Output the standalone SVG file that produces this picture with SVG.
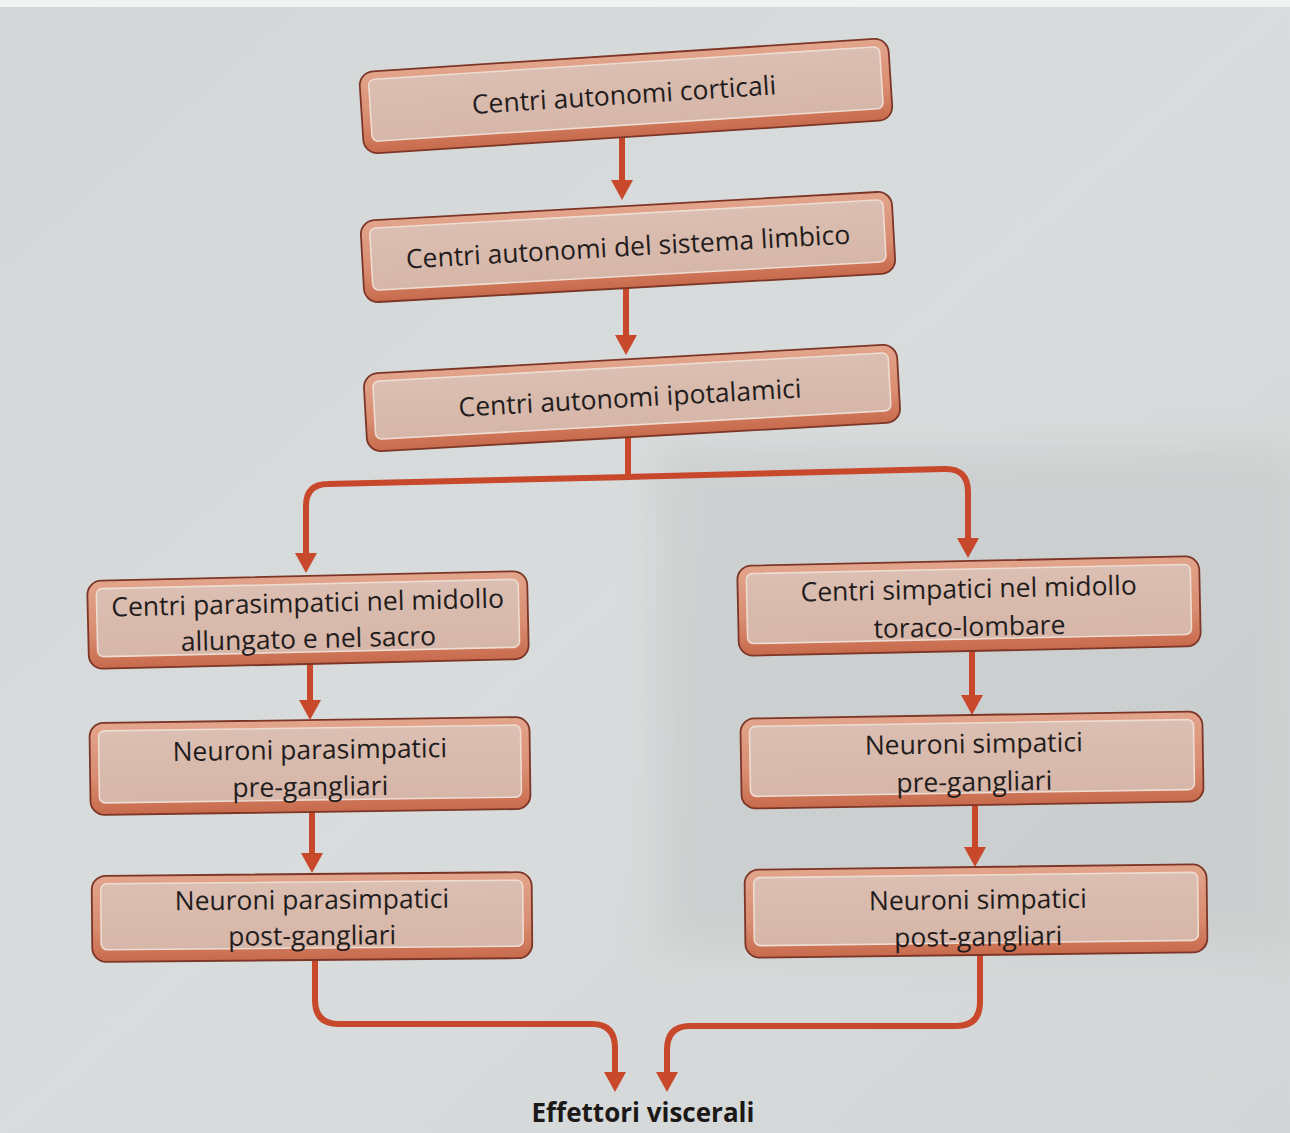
<svg xmlns="http://www.w3.org/2000/svg" width="1290" height="1133" viewBox="0 0 1290 1133">
<defs>
<linearGradient id="outerG" x1="0" y1="0" x2="0" y2="1">
<stop offset="0" stop-color="#e2a58c"/>
<stop offset="0.6" stop-color="#d98c70"/>
<stop offset="1" stop-color="#c86a4c"/>
</linearGradient>
<linearGradient id="innerG" x1="0" y1="0" x2="0" y2="1">
<stop offset="0" stop-color="#dbbfb2"/>
<stop offset="1" stop-color="#d6b6a8"/>
</linearGradient>
<linearGradient id="bgG" x1="0" y1="0" x2="1" y2="1">
<stop offset="0" stop-color="#d4d7d7"/>
<stop offset="0.5" stop-color="#d9dcdc"/>
<stop offset="1" stop-color="#d3d6d6"/>
</linearGradient>
<filter id="soft" x="-10%" y="-10%" width="120%" height="120%"><feGaussianBlur stdDeviation="18"/></filter>
<marker id="ah" viewBox="0 0 20 22" refX="0" refY="11" markerWidth="20" markerHeight="22" markerUnits="userSpaceOnUse" orient="auto">
<path d="M0,0 L20,11 L0,22 z" fill="#c8482b"/>
</marker>
<style>
.outer{fill:url(#outerG);stroke:#7c3627;stroke-width:1.8}
.inner{fill:url(#innerG);stroke:#eedcd2;stroke-width:1.6}
.lbl{font-family:"Open Sans","Noto Sans",sans-serif;font-size:26.5px;fill:#231c1c;text-anchor:middle}
.conn{fill:none;stroke:#c8482b;stroke-width:6;stroke-linejoin:round}
.title{font-family:"Open Sans","Noto Sans",sans-serif;font-size:26px;font-weight:bold;fill:#1c1818;text-anchor:middle}
</style>
</defs>
<rect x="0" y="0" width="1290" height="1133" fill="url(#bgG)"/>
<rect x="660" y="450" width="640" height="500" fill="#c6c9c9" opacity="0.6" filter="url(#soft)"/>
<rect x="0" y="0" width="1290" height="7" fill="#f1f2f2"/>

<g id="connectors">
<path class="conn" d="M622 138 L622 180" marker-end="url(#ah)"/>
<path class="conn" d="M626 287 L626 335" marker-end="url(#ah)"/>
<path class="conn" d="M628 436 L628 478"/>
<path class="conn" d="M631 477 L328 484 Q306 484 306 506 L306 553" marker-end="url(#ah)"/>
<path class="conn" d="M625 477 L944 469 Q968 468 968 492 L968 538" marker-end="url(#ah)"/>
<path class="conn" d="M310 662 L310 700" marker-end="url(#ah)"/>
<path class="conn" d="M312 810 L312 853" marker-end="url(#ah)"/>
<path class="conn" d="M972 649 L972 695" marker-end="url(#ah)"/>
<path class="conn" d="M975 803 L975 847" marker-end="url(#ah)"/>
<path class="conn" d="M315 958 L315 1000 Q315 1024 339 1024 L592 1024 Q615 1024 615 1048 L615 1072" marker-end="url(#ah)"/>
<path class="conn" d="M980 953 L980 1002 Q980 1026 956 1026 L690 1026 Q667 1026 667 1050 L667 1072" marker-end="url(#ah)"/>
</g>

<g id="n1" transform="rotate(-3.7 626 96)">
<rect class="outer" x="361" y="55" width="530" height="82" rx="14"/>
<rect class="inner" x="370" y="63" width="512" height="62" rx="6"/>
<text class="lbl" x="624" y="104">Centri autonomi corticali</text>
</g>

<g id="n2" transform="rotate(-3.2 628 247)">
<rect class="outer" x="362" y="206" width="532" height="82" rx="14"/>
<rect class="inner" x="371" y="214" width="514" height="62" rx="6"/>
<text class="lbl" x="628" y="256">Centri autonomi del sistema limbico</text>
</g>

<g id="n3" transform="rotate(-3.2 632 398)">
<rect class="outer" x="365" y="359" width="534" height="78" rx="14"/>
<rect class="inner" x="374" y="367" width="516" height="58" rx="6"/>
<text class="lbl" x="630" y="407">Centri autonomi ipotalamici</text>
</g>

<g id="n4" transform="rotate(-1.3 308 620)">
<rect class="outer" x="88" y="576" width="440" height="88" rx="14"/>
<rect class="inner" x="97" y="584" width="422" height="68" rx="6"/>
<text class="lbl" x="308" y="612">Centri parasimpatici nel midollo</text>
<text class="lbl" x="308" y="648">allungato e nel sacro</text>
</g>

<g id="n5" transform="rotate(-1.2 969 606)">
<rect class="outer" x="738" y="561" width="462" height="90" rx="14"/>
<rect class="inner" x="747" y="569" width="444" height="70" rx="6"/>
<text class="lbl" x="969" y="598">Centri simpatici nel midollo</text>
<text class="lbl" x="969" y="636">toraco-lombare</text>
</g>

<g id="n6" transform="rotate(-0.8 310 766)">
<rect class="outer" x="90" y="720" width="440" height="92" rx="14"/>
<rect class="inner" x="99" y="728" width="422" height="72" rx="6"/>
<text class="lbl" x="310" y="759">Neuroni parasimpatici</text>
<text class="lbl" x="310" y="796">pre-gangliari</text>
</g>

<g id="n7" transform="rotate(-0.9 972 760)">
<rect class="outer" x="741" y="715" width="462" height="90" rx="14"/>
<rect class="inner" x="750" y="723" width="444" height="70" rx="6"/>
<text class="lbl" x="974" y="753">Neuroni simpatici</text>
<text class="lbl" x="974" y="791">pre-gangliari</text>
</g>

<g id="n8" transform="rotate(-0.5 312 917)">
<rect class="outer" x="92" y="874" width="440" height="86" rx="14"/>
<rect class="inner" x="101" y="882" width="422" height="66" rx="6"/>
<text class="lbl" x="312" y="909">Neuroni parasimpatici</text>
<text class="lbl" x="312" y="945">post-gangliari</text>
</g>

<g id="n9" transform="rotate(-0.7 976 911)">
<rect class="outer" x="745" y="867" width="462" height="88" rx="14"/>
<rect class="inner" x="754" y="875" width="444" height="68" rx="6"/>
<text class="lbl" x="978" y="909">Neuroni simpatici</text>
<text class="lbl" x="978" y="946">post-gangliari</text>
</g>

<g id="n10">
<text class="title" x="643" y="1122">Effettori viscerali</text>
</g>
</svg>
